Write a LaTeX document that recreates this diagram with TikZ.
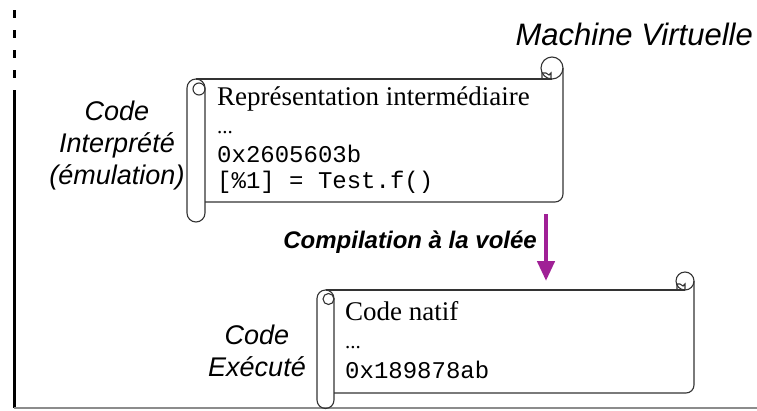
\documentclass[tikz,border=0pt]{standalone}
\usepackage{fontspec}
\setmainfont{Liberation Serif}
\setsansfont{Liberation Sans}
\setmonofont{Liberation Mono}
\usetikzlibrary{positioning, arrows.meta, calc}
\definecolor{jitpurple}{RGB}{160,32,150}

\begin{document}
\begin{tikzpicture}[
  x=1pt, y=-1pt,
  lbl/.style   ={font=\sffamily\itshape\fontsize{27}{32}\selectfont, align=center, inner sep=0pt},
  title/.style ={font=\sffamily\itshape\fontsize{31}{36}\selectfont, anchor=base east, inner sep=0pt},
  txt/.style   ={font=\rmfamily\fontsize{27}{30}\selectfont, anchor=base west, inner sep=0pt},
  dots/.style  ={font=\rmfamily\fontsize{21}{24}\selectfont, anchor=base west, inner sep=0pt},
  code/.style  ={font=\ttfamily\fontsize{24}{28}\selectfont, anchor=base west, inner sep=0pt},
  scroll/.style={draw=black!80, line width=1.1pt},
  jit/.style   ={-{Triangle[length=20pt, width=17pt]}, line width=4.5pt, draw=jitpurple},
  jitlbl/.style={font=\sffamily\bfseries\itshape\fontsize{24}{28}\selectfont, anchor=base east, inner sep=0pt},
]
\useasboundingbox (0,0) rectangle (757,410);

% ---------- frame ----------
\draw[line width=3pt, dash pattern=on 8pt off 12pt] (14,10) -- (14,84);
\draw[line width=3pt] (14,90) -- (14,408);
\draw[line width=2pt, draw=black!45] (14,408) -- (757,408);

\node[title] (vm) at (753,45) {Machine Virtuelle};

% ---------- interpreted code (upper scroll) ----------
\draw[scroll] (196,79) -- (552,79);
\draw[scroll] (563,68) [rounded corners=8pt] -- (563,202) -- (205,202);
\draw[scroll] (552,68) circle[radius=11];
\draw[scroll] (542,79) -- (542,73) -- (546,73) -- (549,75) -- (551,73) -- (551,79);
\draw[scroll] (205,88) arc(0:-180:9) -- (187,213) arc(180:0:9) -- (205,88);
\draw[scroll] (199,89) circle[radius=6];

\node[txt]  (rep)   at (217,105) {Représentation intermédiaire};
\node[dots] (repd)  at (217,133) {...};
\node[code] (addr1) at (217,162) {0x2605603b};
\node[code] (call)  at (217,188) {[\%1] = Test.f()};

\node[lbl] (interp) at (117,146) {Code\\Interprété\\(émulation)};

% ---------- JIT ----------
\coordinate (jitA) at (546,214);
\coordinate (jitB) at (546,281);
\draw[jit] (jitA) -- (jitB);
\node[jitlbl] (jitname) at (537,248) {Compilation à la volée};

% ---------- native code (lower scroll) ----------
\draw[scroll] (325.5,290) -- (685,290);
\draw[scroll] (694,281) [rounded corners=8pt] -- (694,393) -- (334,393);
\draw[scroll] (685,281) circle[radius=9];
\draw[scroll] (677,290) -- (677,284) -- (680,284) -- (683,286) -- (685,284) -- (685,290);
\draw[scroll] (334,298.5) arc(0:-180:8.5) -- (317,400) arc(180:0:8.5) -- (334,298.5);
\draw[scroll] (328.5,299) circle[radius=5.5];

\node[txt]  (natif) at (345,320) {Code natif};
\node[dots] (natd)  at (345,348) {...};
\node[code] (addr2) at (345,378) {0x189878ab};

\node[lbl] (exec) at (257,351) {Code\\Exécuté};

\end{tikzpicture}
\end{document}
